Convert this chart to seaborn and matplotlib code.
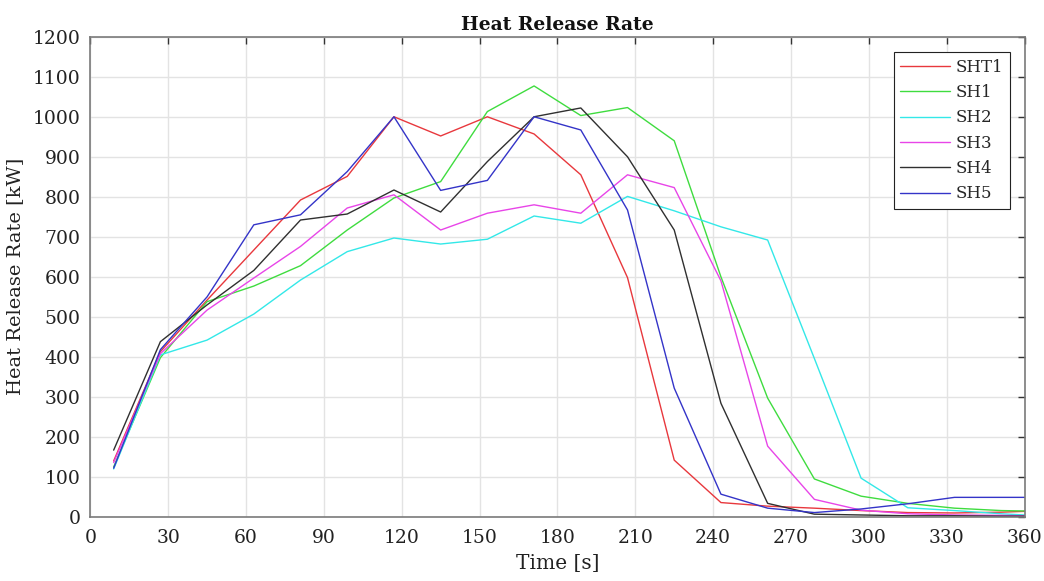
import numpy as np
import pandas as pd
import matplotlib
matplotlib.use("Agg")
import matplotlib.pyplot as plt
import seaborn as sns

# Sampling times [s]
time_s = [9, 27, 45, 63, 81, 99, 117, 135, 153, 171, 189, 207, 225, 243,
          261, 279, 297, 315, 333, 351, 360]

# Heat release rate per test [kW]
sht1 = [140, 413, 542, 667, 792, 851, 1000, 952, 1000, 957, 855, 598, 142, 36,
        27, 22, 16, 11, 10, 12, 14]
sh1 = [125, 398, 538, 577, 628, 717, 797, 838, 1013, 1077, 1003, 1023, 940, 600,
       297, 95, 52, 34, 22, 16, 15]
sh2 = [120, 405, 442, 507, 592, 663, 697, 682, 694, 752, 734, 801, 765, 725,
       692, 396, 97, 23, 16, 8, 5]
sh3 = [136, 408, 517, 597, 676, 772, 805, 717, 759, 780, 759, 855, 823, 590,
       177, 44, 17, 8, 5, 4, 3]
sh4 = [167, 438, 530, 616, 742, 757, 817, 762, 888, 1000, 1022, 900, 717, 284,
       34, 7, 5, 3, 3, 2, 2]
sh5 = [122, 418, 550, 730, 755, 863, 1000, 816, 841, 1000, 967, 767, 322, 57,
       22, 11, 20, 33, 49, 49, 49]

series_names = ["SHT1", "SH1", "SH2", "SH3", "SH4", "SH5"]
series_values = [sht1, sh1, sh2, sh3, sh4, sh5]
series_colors = ["#e8383d", "#3fdc3f", "#33e8e8", "#e845e8", "#303030", "#3434c8"]

df = pd.DataFrame({
    "Time": np.tile(time_s, len(series_names)),
    "HRR": np.concatenate(series_values),
    "Test": np.repeat(series_names, len(time_s)),
})

sns.set_style("white")
plt.rcParams["font.family"] = ["DejaVu Serif"]

fig = plt.figure(figsize=(10.44, 5.81), dpi=100)
ax = fig.add_axes([0.0865, 0.1102, 0.8949, 0.8266])

sns.lineplot(data=df, x="Time", y="HRR", hue="Test", hue_order=series_names,
             palette=dict(zip(series_names, series_colors)), linewidth=1.0,
             ax=ax, legend=True)

ax.set_xlim(0, 360)
ax.set_ylim(0, 1200)
ax.set_xticks(np.arange(0, 361, 30))
ax.set_yticks(np.arange(0, 1201, 100))
ax.grid(True, color="#e3e3e3", linewidth=1.0)
ax.set_axisbelow(True)
for sp in ax.spines.values():
    sp.set_color("#7a7a7a")
    sp.set_linewidth(1.2)
ax.tick_params(direction="in", length=5, width=1.0, color="#333333",
               top=True, right=True, labelsize=13.5, labelcolor="#222222")
ax.tick_params(axis="x", pad=9)
ax.tick_params(axis="y", pad=7)

ax.set_title("Heat Release Rate", fontsize=13.5, fontweight="bold", color="#111111", pad=5)
ax.set_xlabel("Time [s]", fontsize=14.5, color="#222222", labelpad=5)
ax.set_ylabel("Heat Release Rate [kW]", fontsize=14, color="#222222", labelpad=6)

leg = ax.legend(loc="upper right", bbox_to_anchor=(0.984, 0.968), fontsize=12,
                frameon=True, fancybox=False, framealpha=1.0, handlelength=3.0,
                handletextpad=0.3, labelspacing=0.5, borderpad=0.4,
                borderaxespad=0.0)
leg.get_frame().set_edgecolor("#222222")
leg.get_frame().set_linewidth(0.8)

fig.savefig("out.png", dpi=100, facecolor="white")
